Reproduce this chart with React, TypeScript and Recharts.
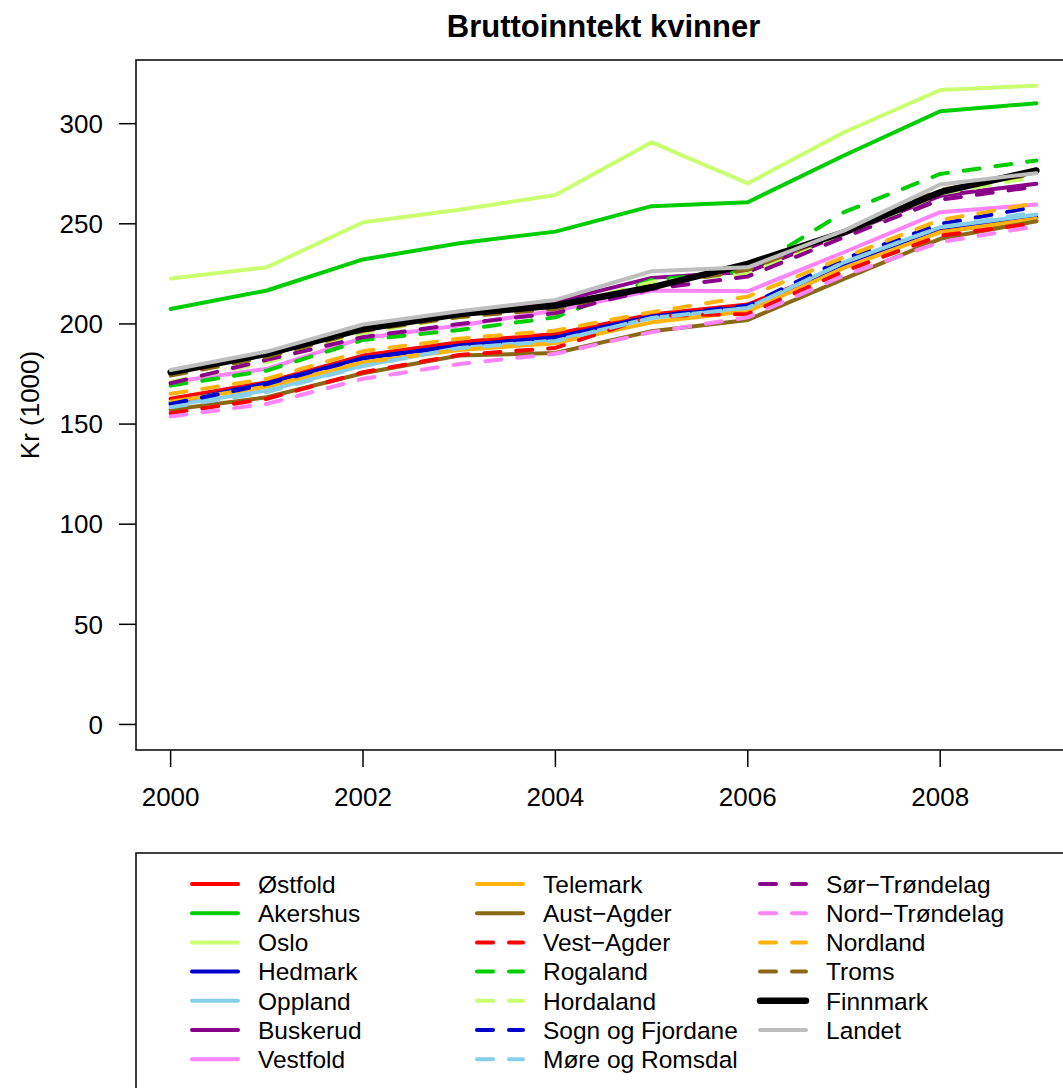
import {Line, LineChart, ReferenceArea, XAxis, YAxis} from "recharts";

const FONT = '"Liberation Sans", Arial, Helvetica, sans-serif';

// x axis
const years = [2000, 2001, 2002, 2003, 2004, 2005, 2006, 2007, 2008, 2009];
const yearTicks = [2000, 2002, 2004, 2006, 2008];
const krTicks = [0, 50, 100, 150, 200, 250, 300];

// Kr (1000) per fylke
const ostfold = [162.6, 170.9, 184.2, 190.9, 195, 204.7, 209.7, 229, 246.6, 251.6];
const akershus = [207.5, 216.7, 232.2, 240.3, 246.1, 258.8, 260.8, 284.1, 306.2, 310.2];
const oslo = [222.7, 228.3, 250.8, 257, 264.4, 290.7, 270.2, 295.7, 316.8, 319];
const hedmark = [160.6, 170.4, 182.9, 189.2, 193.4, 203.7, 208.3, 229.2, 248, 253.3];
const oppland = [159.3, 166.7, 179.2, 188, 191.7, 203, 208, 230.8, 248.3, 254.6];
const buskerud = [176, 185.5, 199, 206, 211, 223, 226, 245, 264, 270];
const vestfold = [170.9, 177.6, 193, 199.2, 206.7, 216.7, 216.3, 235.8, 255.8, 259.6];
const telemark = [161.2, 168.7, 180.9, 187, 190.4, 200.8, 206.3, 228, 245.8, 252.5];
const austAgder = [157.1, 163.4, 175.4, 184.2, 185.5, 196.4, 202, 222.5, 242.5, 251.3];
const vestAgder = [155.4, 162.6, 175.9, 184.5, 188, 204, 205, 226.3, 244.1, 250.3];
const rogaland = [169.2, 176.7, 192, 197, 203.3, 222, 226.3, 255.8, 274.9, 281.6];
const hordaland = [171, 181, 195.5, 203.5, 208, 221, 225.3, 244, 265, 273.6];
const sognFjordane = [160, 170, 183, 189, 193, 203.7, 209.2, 232.5, 249.9, 258.6];
const moreRomsdal = [158.4, 166, 179, 188, 191.5, 203, 208, 230.8, 248.3, 255.8];
const sorTrondelag = [170.4, 182.1, 193.4, 200, 205.4, 217.5, 223.7, 243.3, 262, 268.6];
const nordTrondelag = [153.8, 160.1, 172.6, 180, 185.1, 195.9, 203.3, 224.2, 240.8, 248.8];
const nordland = [165.1, 172.6, 186.4, 192.6, 196.7, 205.9, 213.7, 233.3, 251.9, 260.3];
const troms = [174.2, 183.5, 196.5, 203.5, 207.5, 219, 227, 246, 267, 275];
const finnmark = [175.9, 185.1, 197.5, 205, 209.2, 218.3, 230, 245.8, 265.8, 276.6];
const landet = [177, 186.2, 199.7, 206.3, 212, 226.3, 228.3, 246.6, 269.6, 275.3];

const series = [
  {name: "Østfold", values: ostfold, color: "#FF0000", dash: false, width: 4},
  {name: "Akershus", values: akershus, color: "#00CD00", dash: false, width: 4},
  {name: "Oslo", values: oslo, color: "#CAFF70", dash: false, width: 4},
  {name: "Hedmark", values: hedmark, color: "#0000CD", dash: false, width: 4},
  {name: "Oppland", values: oppland, color: "#87CEEB", dash: false, width: 4},
  {name: "Buskerud", values: buskerud, color: "#8B008B", dash: false, width: 4},
  {name: "Vestfold", values: vestfold, color: "#FF83FA", dash: false, width: 4},
  {name: "Telemark", values: telemark, color: "#FFB30F", dash: false, width: 4},
  {name: "Aust−Agder", values: austAgder, color: "#8B6914", dash: false, width: 4},
  {name: "Vest−Agder", values: vestAgder, color: "#FF0000", dash: true, width: 4},
  {name: "Rogaland", values: rogaland, color: "#00CD00", dash: true, width: 4},
  {name: "Hordaland", values: hordaland, color: "#CAFF70", dash: true, width: 4},
  {name: "Sogn og Fjordane", values: sognFjordane, color: "#0000CD", dash: true, width: 4},
  {name: "Møre og Romsdal", values: moreRomsdal, color: "#87CEEB", dash: true, width: 4},
  {name: "Sør−Trøndelag", values: sorTrondelag, color: "#8B008B", dash: true, width: 4},
  {name: "Nord−Trøndelag", values: nordTrondelag, color: "#FF83FA", dash: true, width: 4},
  {name: "Nordland", values: nordland, color: "#FFB30F", dash: true, width: 4},
  {name: "Troms", values: troms, color: "#8B6914", dash: true, width: 4},
  {name: "Finnmark", values: finnmark, color: "#000000", dash: false, width: 6.5},
  {name: "Landet", values: landet, color: "#BEBEBE", dash: false, width: 4},
];

const rows = years.map((year, i) => {
  const row: Record<string, number> = {year};
  series.forEach((s, k) => { row["s" + k] = s.values[i]; });
  return row;
});

// R style 4% padding around the data range
const X_DOMAIN = [2000 - 0.36, 2009 + 0.36];
const Y_DOMAIN = [-12.76, 331.8];

const CHART_W = 1090;
const CHART_H = 1088;

const LegendBox = () => {
  const colX = [192, 477, 760];
  const rowY0 = 884;
  const rowStep = 29.2;
  return <svg
    width={1063} height={1088}
    style={{position: "absolute", left: 0, top: 0, pointerEvents: "none"}}
  >
    <rect x={136} y={853} width={1000} height={400} fill="none" stroke="#000" strokeWidth={1.5}/>
    {series.map((s, i) => {
      const col = Math.floor(i / 7);
      const r = i % 7;
      const x = colX[col];
      const y = rowY0 + r * rowStep;
      return <g key={s.name}>
        <line
          x1={x} x2={x + 46} y1={y} y2={y}
          stroke={s.color} strokeWidth={s.width}
          strokeDasharray={s.dash ? "16 16" : undefined}
          strokeLinecap="round"
        />
        <text x={x + 66} y={y} dy="0.36em" fontSize={24.5} fontFamily={FONT} fill="#000">{s.name}</text>
      </g>;
    })}
  </svg>;
};

export default function App() {
  return <div style={{position: "relative", width: 1063, height: 1088, overflow: "hidden", background: "#fff"}}>
    <style>{`body{margin:0}`}</style>
    <div style={{
      position: "absolute", left: 0, width: 1207, top: 9, textAlign: "center",
      fontFamily: FONT, fontWeight: "bold", fontSize: 31, lineHeight: "36px", color: "#000",
    }}>Bruttoinntekt kvinner</div>
    <div style={{
      position: "absolute", left: 30, top: 405, transform: "translate(-50%, -50%) rotate(-90deg)",
      fontFamily: FONT, fontSize: 26, whiteSpace: "nowrap", color: "#000",
    }}>Kr (1000)</div>
    <div style={{position: "absolute", left: 0, top: 0}}>
      <LineChart
        width={CHART_W}
        height={CHART_H}
        data={rows}
        margin={{top: 60, right: CHART_W - 1071, bottom: 1088 - 750 - 60, left: 36}}
      >
        <XAxis
          dataKey="year"
          type="number"
          domain={X_DOMAIN}
          ticks={yearTicks}
          allowDataOverflow
          height={60}
          axisLine={false}
          tickSize={17}
          tickMargin={21}
          tickLine={{stroke: "#000", strokeWidth: 1.5}}
          tick={{fill: "#000", fontSize: 26, fontFamily: FONT}}
          interval={0}
        />
        <YAxis
          type="number"
          domain={Y_DOMAIN}
          ticks={krTicks}
          allowDataOverflow
          width={100}
          axisLine={false}
          tickSize={17}
          tickMargin={16}
          tickLine={{stroke: "#000", strokeWidth: 1.5}}
          tick={{fill: "#000", fontSize: 26, fontFamily: FONT}}
          interval={0}
        />
        {series.map((s, k) => <Line
          key={s.name}
          dataKey={"s" + k}
          name={s.name}
          type="linear"
          stroke={s.color}
          strokeWidth={s.width}
          strokeDasharray={s.dash ? "16 16" : undefined}
          strokeLinecap="round"
          strokeLinejoin="round"
          dot={false}
          activeDot={false}
          isAnimationActive={false}
        />)}
        <ReferenceArea
          x1={X_DOMAIN[0]} x2={X_DOMAIN[1]} y1={Y_DOMAIN[0]} y2={Y_DOMAIN[1]}
          fill="none" stroke="#000" strokeWidth={1.5} ifOverflow="visible"
        />
      </LineChart>
    </div>
    <LegendBox/>
  </div>;
}
